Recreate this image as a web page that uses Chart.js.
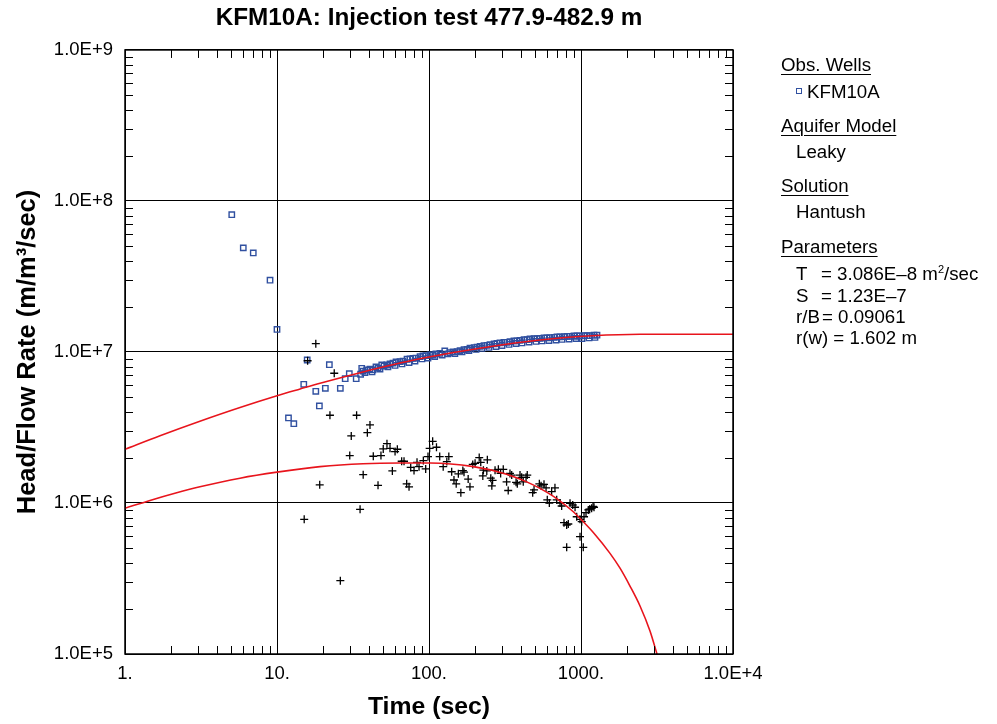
<!DOCTYPE html>
<html>
<head>
<meta charset="utf-8">
<script src="https://cdn.jsdelivr.net/npm/chart.js@4.4.0/dist/chart.umd.min.js"></script>
<style>
  body { margin: 0; background: #fff; }
  #wrap { position: relative; width: 997px; height: 724px; }
  #side { position: absolute; left: 0; top: 0; font-family: "Liberation Sans", Arial, sans-serif; font-size: 18.7px; color: #000; }
  .ln { position: absolute; white-space: nowrap; line-height: 20px; }
  .hd { text-decoration: underline; text-decoration-thickness: 1px; text-underline-offset: 3px; }
  .sq { display: inline-block; width: 4px; height: 4px; border: 1px solid #3050a0; margin-right: 5px; vertical-align: 4px; }
  sup { font-size: 11px; vertical-align: 7px; line-height: 0; }
</style>
</head>
<body>
<div id="wrap">
  <canvas id="chart" width="997" height="724"></canvas>
  <div id="side">
    <div class="ln hd" style="left:781px;top:55px">Obs. Wells</div>
    <div class="ln" style="left:796px;top:82px"><span class="sq"></span>KFM10A</div>
    <div class="ln hd" style="left:781px;top:116px">Aquifer Model</div>
    <div class="ln" style="left:796px;top:142px">Leaky</div>
    <div class="ln hd" style="left:781px;top:176px">Solution</div>
    <div class="ln" style="left:796px;top:202px">Hantush</div>
    <div class="ln hd" style="left:781px;top:237px">Parameters</div>
    <div class="ln" style="left:796px;top:264px">T</div>
    <div class="ln" style="left:821px;top:264px">= 3.086E–8 m<sup>2</sup>/sec</div>
    <div class="ln" style="left:796px;top:286px">S</div>
    <div class="ln" style="left:821px;top:286px">= 1.23E–7</div>
    <div class="ln" style="left:796px;top:307px">r/B</div>
    <div class="ln" style="left:822px;top:307px">= 0.09061</div>
    <div class="ln" style="left:796px;top:328px">r(w) = 1.602 m</div>
  </div>
</div>
<script>
// observed head / flow rate, KFM10A
const obsTime = [5.04, 6.00, 6.98, 9.0, 10.0, 11.9, 12.9, 15.0, 15.8, 18.0, 19.0, 20.8, 22.1, 26.1, 28.1, 29.9, 33.2, 35.5,
  36.1, 36.8, 38.9, 40.9, 42.8, 44.8, 46.2, 48.9, 50.6, 52.7, 55.4, 58.0, 60.7, 64.4, 67.5, 71.7, 75.0, 78.5, 82.1, 87.3,
  91.3, 95.5, 101.6, 106, 111, 118, 127, 137, 144, 153, 160, 170, 178, 186, 198, 207, 217, 230, 241, 252, 268, 280, 293,
  311, 326, 341, 362, 379, 397, 422, 442, 462, 491, 514, 537, 571, 597, 625, 664, 695, 728, 773, 809, 847, 899, 942, 985,
  1047, 1095, 1146, 1218, 1274,
  37.9, 42.2, 47.6, 53.7, 59.8, 66.4, 73.9, 80.9, 89.9, 98.5, 109, 122, 133, 148, 165, 183, 204, 223, 248, 276, 302, 336,
  374, 409, 455, 506, 554, 615, 685, 750, 834, 927, 1016, 1130, 1236];
const obsHead = [8.11e7, 4.89e7, 4.53e7, 2.99e7, 1.41e7, 3.66e6, 3.35e6, 6.11e6, 8.85e6, 5.49e6, 4.39e6, 5.75e6, 8.24e6, 5.75e6, 6.65e6, 7.18e6, 6.65e6, 7.12e6,
  7.80e6, 7.48e6, 7.60e6, 7.71e6, 7.60e6, 7.96e6, 7.83e6, 8.20e6, 8.07e6, 8.20e6, 8.33e6, 8.45e6, 8.59e6, 8.63e6, 8.71e6, 8.95e6, 8.99e6, 9.08e6, 9.12e6, 9.31e6,
  9.41e6, 9.45e6, 9.55e6, 9.55e6, 9.70e6, 9.80e6, 1.016e7, 9.91e6, 1.000e7, 1.005e7, 1.021e7, 1.036e7, 1.042e7, 1.059e7, 1.069e7, 1.075e7, 1.091e7, 1.102e7, 1.107e7, 1.117e7, 1.130e7, 1.142e7, 1.148e7,
  1.159e7, 1.159e7, 1.170e7, 1.183e7, 1.183e7, 1.194e7, 1.206e7, 1.206e7, 1.219e7, 1.225e7, 1.225e7, 1.232e7, 1.239e7, 1.239e7, 1.245e7, 1.251e7, 1.257e7, 1.257e7, 1.263e7, 1.270e7, 1.270e7, 1.276e7, 1.276e7, 1.276e7,
  1.282e7, 1.282e7, 1.282e7, 1.291e7, 1.291e7,
  7.31e6, 7.38e6, 7.71e6, 7.96e6, 8.14e6, 8.33e6, 8.51e6, 8.71e6, 8.99e6, 9.12e6, 9.33e6, 9.55e6, 9.70e6, 9.77e6, 1.000e7, 1.023e7, 1.040e7, 1.055e7, 1.072e7, 1.087e7, 1.104e7, 1.122e7,
  1.138e7, 1.148e7, 1.164e7, 1.174e7, 1.183e7, 1.191e7, 1.200e7, 1.211e7, 1.219e7, 1.228e7, 1.228e7, 1.239e7, 1.248e7];

// derivative points (crosses)
const derivTime = [18.0, 15.9, 23.8, 22.3, 33.4, 40.9, 39.3, 30.8, 52.9, 50.0, 55.4, 61.9, 59.8, 30.1, 43.0, 48.3, 66.1, 68.5,
  105.7, 101, 112, 98.5, 117.6, 124, 95.1, 83.4, 91.8, 75.8, 79.7, 86.0, 57.4, 36.9, 19.1, 46.2, 71.3, 73.9, 35.2, 15.1, 26.1,
  131, 135, 141, 156, 167, 170, 146, 151, 181, 186, 162, 194, 201, 214, 219, 242, 228, 240, 226, 255, 272, 286, 296, 262, 259,
  308, 324, 332, 341, 350, 374, 397, 407, 435, 443, 417, 381, 481, 491, 532, 546, 571, 589, 674, 641, 600, 619, 692, 728, 746,
  847, 882, 914, 937, 985, 1011, 1047, 1079, 1117, 1175, 1218, 773, 805, 825, 985, 805, 1035, 1140, 1200];
const derivValue = [1.135e7, 8.75e6, 7.23e6, 3.81e6, 3.81e6, 3.29e6, 2.92e6, 2.78e6, 2.47e6, 2.28e6, 2.30e6, 2.27e6, 2.19e6, 2.06e6, 2.04e6, 2.06e6, 1.89e6, 1.89e6,
  2.56e6, 2.30e6, 2.34e6, 2.03e6, 2.03e6, 1.74e6, 1.68e6, 1.86e6, 1.91e6, 1.72e6, 1.64e6, 1.74e6, 1.63e6, 1.54e6, 1.32e6, 1.31e6, 1.34e6, 1.28e6, 9.08e5, 7.80e5, 3.06e5,
  1.88e6, 2.03e6, 1.61e6, 1.56e6, 1.64e6, 1.60e6, 1.42e6, 1.34e6, 1.44e6, 1.28e6, 1.17e6, 1.80e6, 1.83e6, 2.00e6, 1.86e6, 1.93e6, 1.65e6, 1.63e6, 1.51e6, 1.46e6, 1.65e6, 1.67e6, 1.57e6, 1.41e6, 1.30e6,
  1.67e6, 1.38e6, 1.21e6, 1.57e6, 1.53e6, 1.37e6, 1.53e6, 1.48e6, 1.48e6, 1.53e6, 1.38e6, 1.34e6, 1.17e6, 1.22e6, 1.34e6, 1.30e6, 1.33e6, 1.26e6, 1.26e6, 1.19e6, 1.05e6, 1.00e6, 1.05e6, 1.00e6, 9.55e5,
  9.95e5, 9.70e5, 9.37e5, 8.11e5, 7.80e5, 7.52e5, 8.11e5, 8.63e5, 8.99e5, 9.23e5, 9.37e5, 7.41e5, 7.15e5, 7.26e5, 5.98e5, 5.09e5, 5.09e5, 9.10e5, 9.51e5];

// Hantush type curves
const fitTime = [1, 1.70, 3.11, 5.71, 10, 14.2, 19.2, 36.8, 64.4, 101.6, 216, 537, 1200, 2445, 10000];
const fitHead = [2.27e6, 2.79e6, 3.48e6, 4.29e6, 5.13e6, 5.69e6, 6.21e6, 7.38e6, 8.45e6, 9.31e6, 1.06e7, 1.20e7, 1.28e7, 1.31e7, 1.31e7];
const fitDerivTime = [1, 1.46, 2.13, 3.11, 5.71, 10, 19.2, 36.8, 64.4, 101.6, 196, 324, 439, 537, 692, 890, 1035, 1205, 1552, 1806, 2100, 2445, 2844, 3162];
const fitDeriv = [9.23e5, 1.04e6, 1.16e6, 1.28e6, 1.46e6, 1.60e6, 1.74e6, 1.82e6, 1.84e6, 1.84e6, 1.74e6, 1.55e6, 1.38e6, 1.25e6, 1.07e6, 8.75e5, 7.52e5, 6.38e5, 4.64e5, 3.70e5, 2.82e5, 2.08e5, 1.42e5, 1.0e5];

const xTickValues = [1, 10, 100, 1000, 10000];
const xTickLabels = ['1.', '10.', '100.', '1000.', '1.0E+4'];
const yTickValues = [1e5, 1e6, 1e7, 1e8, 1e9];
const yTickLabels = ['1.0E+5', '1.0E+6', '1.0E+7', '1.0E+8', '1.0E+9'];

const FONT = '"Liberation Sans", Arial, sans-serif';
const zip = (xs, ys) => xs.map((x, i) => ({ x: x, y: ys[i] }));

// inward minor ticks + frame
const frameTicks = {
  id: 'frameTicks',
  afterDatasetsDraw(chart) {
    const { ctx, chartArea: a, scales: { x, y } } = chart;
    ctx.save();
    ctx.strokeStyle = '#000';
    ctx.lineWidth = 1;
    ctx.beginPath();
    for (let i = 0; i < xTickValues.length - 1; i++) {
      for (let k = 2; k < 10; k++) {
        const px = Math.round(x.getPixelForValue(xTickValues[i] * k)) + 0.5;
        ctx.moveTo(px, a.bottom); ctx.lineTo(px, a.bottom - 8);
        ctx.moveTo(px, a.top); ctx.lineTo(px, a.top + 8);
      }
    }
    for (let i = 0; i < yTickValues.length - 1; i++) {
      for (let k = 2; k < 10; k++) {
        const py = Math.round(y.getPixelForValue(yTickValues[i] * k)) + 0.5;
        ctx.moveTo(a.left, py); ctx.lineTo(a.left + 8, py);
        ctx.moveTo(a.right, py); ctx.lineTo(a.right - 8, py);
      }
    }
    ctx.stroke();
    ctx.lineWidth = 1.5;
    ctx.strokeRect(a.left, a.top, a.right - a.left, a.bottom - a.top);
    ctx.restore();
  }
};

new Chart(document.getElementById('chart').getContext('2d'), {
  type: 'scatter',
  data: {
    datasets: [
      {
        type: 'line', label: 'fit', data: zip(fitTime, fitHead), showLine: true,
        borderColor: '#e8141c', borderWidth: 1.5, pointRadius: 0, cubicInterpolationMode: 'monotone', fill: false
      },
      {
        type: 'line', label: 'fit derivative', data: zip(fitDerivTime, fitDeriv), showLine: true,
        borderColor: '#e8141c', borderWidth: 1.6, pointRadius: 0, cubicInterpolationMode: 'monotone', fill: false
      },
      {
        label: 'derivative', data: zip(derivTime, derivValue), pointStyle: 'cross',
        pointRadius: 4, borderColor: '#000', borderWidth: 1.3, backgroundColor: '#000'
      },
      {
        label: 'KFM10A', data: zip(obsTime, obsHead), pointStyle: 'rect',
        pointRadius: 3.8, borderColor: '#3050a0', borderWidth: 1.4, backgroundColor: 'rgba(0,0,0,0)'
      }
    ]
  },
  options: {
    responsive: false,
    animation: false,
    devicePixelRatio: 1,
    layout: { padding: { left: 0, right: 264, top: 0, bottom: 0 } },
    plugins: {
      legend: { display: false },
      tooltip: { enabled: false },
      title: {
        display: true, fullSize: false, color: '#000',
        text: 'KFM10A: Injection test 477.9-482.9 m',
        font: { family: FONT, size: 24.3, weight: 'bold' },
        padding: { top: 4, bottom: 16.8 }
      }
    },
    scales: {
      x: {
        type: 'logarithmic', min: 1, max: 10000, position: 'bottom',
        afterBuildTicks: s => { s.ticks = xTickValues.map(v => ({ value: v })); },
        afterFit: s => { s.height = 70; s.paddingLeft = 0; s.paddingRight = 0; },
        ticks: {
          color: '#000', padding: 9, maxRotation: 0, autoSkip: false,
          font: { family: FONT, size: 18.5 },
          callback: (v, i) => xTickLabels[i]
        },
        grid: { color: '#000', lineWidth: 1, drawTicks: false },
        border: { display: false },
        title: {
          display: true, text: 'Time (sec)', color: '#000',
          font: { family: FONT, size: 24.8, weight: 'bold' }, padding: { top: 0, bottom: 1.5 }
        }
      },
      y: {
        type: 'logarithmic', min: 1e5, max: 1e9, position: 'left',
        afterBuildTicks: s => { s.ticks = yTickValues.map(v => ({ value: v })); },
        afterFit: s => { s.width = 125; s.paddingTop = 0; s.paddingBottom = 0; },
        ticks: {
          color: '#000', padding: 12, autoSkip: false,
          font: { family: FONT, size: 18.5 },
          callback: (v, i) => yTickLabels[i]
        },
        grid: { color: '#000', lineWidth: 1, drawTicks: false },
        border: { display: false },
        title: {
          display: true, text: 'Head/Flow Rate (m/m³/sec)', color: '#000',
          font: { family: FONT, size: 25.5, weight: 'bold' }, padding: { top: 13, bottom: 0 }
        }
      }
    }
  },
  plugins: [frameTicks]
});
</script>
</body>
</html>
